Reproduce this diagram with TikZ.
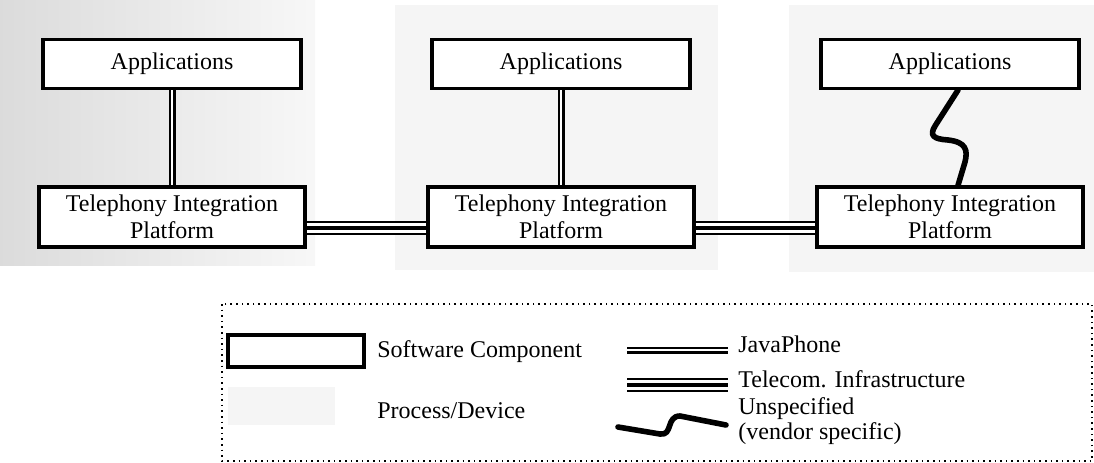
\documentclass[tikz,border=0pt]{standalone}
\usepackage{fontspec}
\setmainfont{Liberation Serif}
\usetikzlibrary{positioning}

\newcommand{\txtsize}{\fontsize{12}{13.5}\selectfont}
\tikzstyle{swbox} = [rectangle, draw, line width=1.6pt, fill=white, align=center, font=\txtsize]
\tikzstyle{procbg} = [fill=black!4, draw=none]
\tikzstyle{javaline} = [line width=1.1pt, double, double distance=1.3pt]
\tikzstyle{telline} = [line width=1.1pt, double, double distance=4.6pt]
\tikzstyle{telmid} = [line width=2.2pt]
\tikzstyle{vendline} = [line width=2.8pt, line cap=round, line join=round]
\tikzstyle{legtext} = [anchor=west, inner sep=0pt, align=left, font=\txtsize]

\begin{document}
\begin{tikzpicture}[x=0.5pt, y=-0.5pt]
  \useasboundingbox (0, 0) rectangle (1094, 462);
  % process / device areas
  \fill[left color=black!14, right color=black!3] (0, 0) rectangle (315, 265);
  \fill[procbg] (395, 5) rectangle (718, 270);
  \fill[procbg] (789, 5) rectangle (1094, 272);
  \foreach \i in {0, 1, 2} {
    \node[swbox, minimum width=129pt, minimum height=24.5pt] (app\i) at (172 + \i * 389, 64) {Applications};
    \node[swbox, minimum width=133pt, minimum height=30pt] (tip\i) at (172 + \i * 389, 217) {Telephony Integration\\Platform};
  }
  \foreach \i in {0, 1} {
    \draw[javaline] (app\i) -- (tip\i);
  }
  \foreach \i\j in {0/1, 1/2} {
    \draw[telline] ([yshift=-5.5pt]tip\i.east) -- ([yshift=-5.5pt]tip\j.west);
    \draw[telmid] ([yshift=-5.5pt]tip\i.east) -- ([yshift=-5.5pt]tip\j.west);
  }
  \draw[vendline] ([xshift=4pt]app2.south) -- (935, 126)
    .. controls (929, 136) and (934, 139) .. (948, 140)
    .. controls (966, 142) and (968, 150) .. (965, 162) -- ([xshift=4pt]tip2.north);

  % legend
  \draw[dotted, line width=0.8pt] (222, 304) rectangle (1092, 461);
  \node[swbox, minimum width=68pt, minimum height=16pt] (legsw) at (296, 351) {};
  \node[legtext] (legswtxt) at (377, 352) {Software Component};
  \fill[procbg] (228, 387) rectangle (335, 425);
  \node[legtext] (legproc) at (377, 411) {Process/Device};
  \coordinate (jv0) at (627, 350);
  \coordinate (jv1) at (728, 350);
  \coordinate (tel0) at (627, 385);
  \coordinate (tel1) at (728, 385);
  \coordinate (ven0) at (618, 427);
  \coordinate (ven1) at (726, 425);
  \draw[javaline] (jv0) -- (jv1);
  \draw[telline] (tel0) -- (tel1);
  \draw[telmid] (tel0) -- (tel1);
  \draw[vendline] (ven0) -- (660, 434) .. controls (673, 436) and (666, 416) .. (680, 416) -- (ven1);
  \node[legtext] (legjava) at (738, 344) {JavaPhone};
  \node[legtext] (legtel) at (738, 379) {Telecom. Infrastructure};
  \node[legtext] (legven) at (738, 409) {Unspecified};
  \node[legtext] (legvend) at (738, 434) {(vendor specific)};
\end{tikzpicture}
\end{document}
